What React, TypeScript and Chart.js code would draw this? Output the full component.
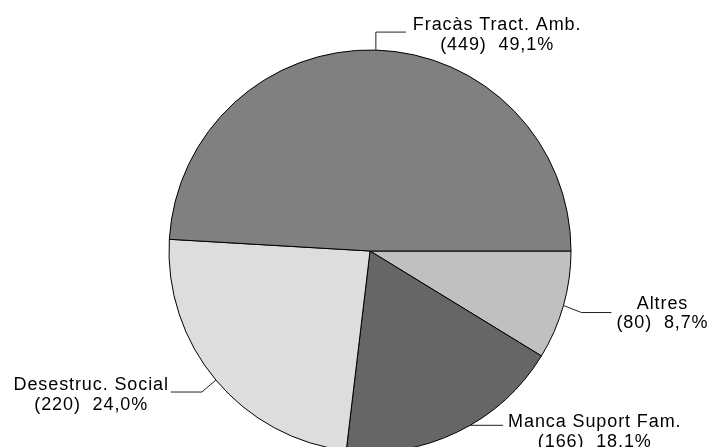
import React, { useEffect, useRef } from "react";
import { Chart, registerables } from "chart.js";

Chart.register(...registerables);

// Data (drawn clockwise from 3 o'clock)
const categories = ["Altres", "Manca Suport Fam.", "Desestruc. Social", "Fracàs Tract. Amb."];
const counts = [80, 166, 220, 449];
const sliceColors = ["#c0c0c0", "#666666", "#dddddd", "#808080"];

// Label leader layout per slice: anchor angle shift (deg), leader path steps, text placement
const anchorShift = [0, -4, 0, 0];
const leaderSteps: number[][][] = [
  [[18, 7], [30, 0]],
  [[33, 0]],
  [[-14, 12], [-31, 0]],
  [[0, -18], [30, 0]],
];
const textSide = ["right", "right", "left", "right"];
const textGap = [5, 5, 2, 7];
const textDy = [-4, 2, -2, -2];
const lineHeight = 19.5;

const labelPlugin = {
  id: "pieLabels",
  afterDraw(chart: any) {
    const ctx = chart.ctx;
    const meta = chart.getDatasetMeta(0);
    const total = counts.reduce((a, b) => a + b, 0);
    ctx.save();
    ctx.font = '18px "Liberation Sans", Arial, sans-serif';
    try { (ctx as any).letterSpacing = "0.9px"; } catch (e) {}
    ctx.fillStyle = "#000";
    ctx.strokeStyle = "#222";
    ctx.lineWidth = 1;
    meta.data.forEach((arc: any, i: number) => {
      const p = arc.getProps(["x", "y", "startAngle", "endAngle", "outerRadius"], true);
      const a = (p.startAngle + p.endAngle) / 2 + (anchorShift[i] * Math.PI) / 180;
      let x = p.x + Math.cos(a) * p.outerRadius;
      let y = p.y + Math.sin(a) * p.outerRadius;
      ctx.beginPath();
      ctx.moveTo(x, y);
      leaderSteps[i].forEach(([dx, dy]) => {
        x += dx;
        y += dy;
        ctx.lineTo(x, y);
      });
      ctx.stroke();
      const pct = ((counts[i] / total) * 100).toFixed(1).replace(".", ",");
      const lines = [categories[i], `(${counts[i]})  ${pct}%`];
      const widths = lines.map((l) => ctx.measureText(l).width);
      const w = Math.max(...widths);
      const left = textSide[i] === "right" ? x + textGap[i] : x - textGap[i] - w;
      const cx = left + w / 2;
      ctx.textAlign = "left";
      ctx.textBaseline = "alphabetic";
      lines.forEach((l, k) => {
        ctx.fillText(l, cx - widths[k] / 2, y + textDy[i] + k * lineHeight);
      });
    });
    ctx.restore();
  },
};

export default function App() {
  const ref = useRef<HTMLCanvasElement>(null);
  useEffect(() => {
    if (!ref.current) return;
    const chart = new Chart(ref.current, {
      type: "pie",
      data: {
        labels: categories,
        datasets: [
          {
            data: counts,
            backgroundColor: sliceColors,
            borderColor: "#000",
            borderWidth: 1,
            hoverOffset: 0,
          },
        ],
      },
      options: {
        responsive: false,
        animation: false,
        rotation: 90,
        radius: 201,
        layout: { padding: { left: 29, right: 0, top: 42, bottom: 0 } },
        plugins: { legend: { display: false }, tooltip: { enabled: false } },
      } as any,
      plugins: [labelPlugin],
    });
    return () => chart.destroy();
  }, []);
  return (
    <div style={{ position: "fixed", left: 0, top: 0, width: 711, height: 447, overflow: "hidden", background: "#fff" }}>
      <canvas ref={ref} width={711} height={460} style={{ display: "block" }} />
    </div>
  );
}
